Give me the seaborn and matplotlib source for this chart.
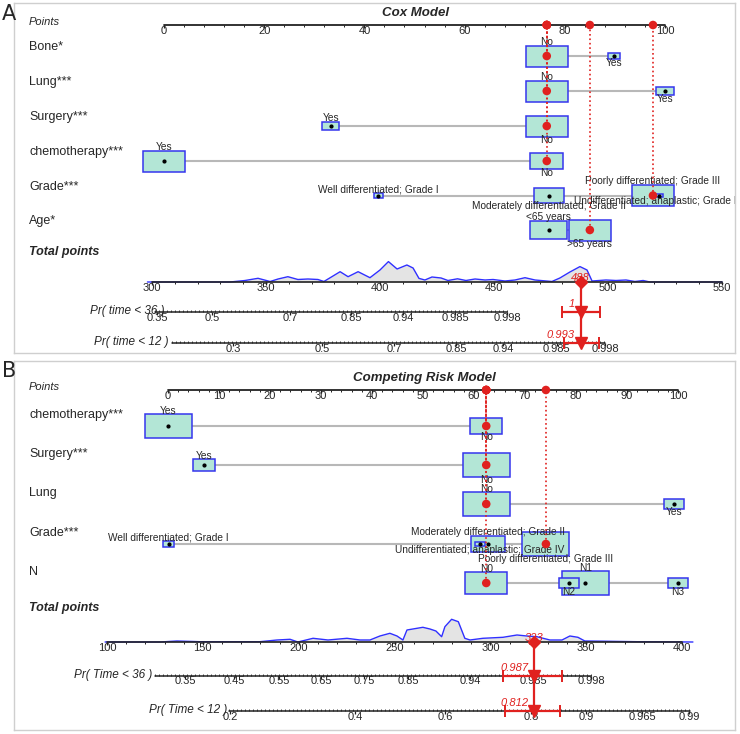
import numpy as np
import matplotlib
matplotlib.use("Agg")
import matplotlib.pyplot as plt
from matplotlib.patches import Rectangle
import seaborn as sns

# ---------------- data: panel A, Cox model ----------------
cox_title = "Cox Model"
cox_vars = ["Bone*", "Lung***", "Surgery***", "chemotherapy***", "Grade***", "Age*"]
grade_levels = ["Well differentiated; Grade I", "Moderately differentiated; Grade II",
                "Poorly differentiated; Grade III", "Undifferentiated; anaplastic; Grade IV"]
cox_levels = [["No", "Yes"], ["No", "Yes"], ["No", "Yes"], ["No", "Yes"],
              grade_levels, ["<65 years", ">65 years"]]
cox_points = [[76.4, 89.8], [76.4, 100], [76.4, 33.3], [76.4, 0],
              [42.8, 76.9, 97.6, 98.8], [76.8, 85.0]]
cox_share = [[0.92, 0.08], [0.85, 0.15], [0.86, 0.14], [0.38, 0.62],
             [0.028, 0.32, 0.63, 0.022], [0.44, 0.56]]
cox_chosen = ["No", "No", "No", "No", "Poorly differentiated; Grade III", ">65 years"]
cox_total = 488
cox_total_ticks = [300, 350, 400, 450, 500, 550]
cox_dens_t = [298, 334.2, 340.8, 346.5, 351.8, 355.3, 359.6, 364.0, 368.4, 372.8, 375.4,
              379.4, 382.5, 386.0, 390.4, 395.6, 400.0, 403.7, 407.5, 411.8, 414.5, 417.1,
              419.7, 422.8, 426.8, 429.8, 434.0, 437.7, 441.7, 446.1, 449.6, 454.8, 459.2,
              463.6, 468.0, 475.4, 478.9, 483.3, 487.7, 490.8, 493.0, 499.1, 503.5, 507.9,
              511.8, 515.4, 518.4, 550]
cox_dens_h = [0, 0, 1.5, 3.7, 0.5, 3, 5.3, 2.5, 3, 2.5, 0.5,
              6, 10.3, 5.3, 10.3, 4.3, 12, 20.4, 13, 17, 14, 3.6,
              2, 5, 4, 1.5, 3.2, 1.5, 3, 2, 2.5, 1, 2,
              4.3, 2, 0.5, 4, 10, 15.4, 12, 1, 2, 1.5, 2,
              0.5, 1.5, 0, 0]
cox_pr_names = ["Pr( time < 36 )", "Pr( time < 12 )"]
cox_pr_ticks = [[0.35, 0.5, 0.7, 0.85, 0.94, 0.985, 0.998],
                [0.3, 0.5, 0.7, 0.85, 0.94, 0.985, 0.998]]
cox_pr_at = [[302.2, 326.3, 360.5, 387.3, 410.1, 432.9, 455.7],
             [335.5, 374.6, 406.1, 433.3, 453.9, 477.6, 498.7]]
cox_pr_span = [(301.3, 455.7), (308.8, 498.7)]
cox_pred = [1, 0.993]
cox_ci = [(479.8, 496.5), (480.7, 496.1)]

# ---------------- data: panel B, competing risk model ----------------
crr_title = "Competing Risk Model"
crr_vars = ["chemotherapy***", "Surgery***", "Lung", "Grade***", "N"]
crr_levels = [["Yes", "No"], ["Yes", "No"], ["No", "Yes"], grade_levels,
              ["N0", "N1", "N2", "N3"]]
crr_points = [[0, 62.4], [7.1, 62.4], [62.4, 99.2], [0.1, 62.8, 74.1, 61.2],
              [62.4, 81.8, 78.6, 100]]
crr_share = [[0.69, 0.31], [0.18, 0.82], [0.85, 0.15], [0.035, 0.32, 0.62, 0.025],
             [0.37, 0.46, 0.085, 0.085]]
crr_chosen = ["No", "No", "No", "Poorly differentiated; Grade III", "N0"]
crr_total = 323
crr_total_ticks = [100, 150, 200, 250, 300, 350, 400]
crr_dens_t = [99, 127.6, 136.5, 148.5, 179.8, 188.7, 195.5, 199.6, 207.5, 215.3, 225.2,
              232.0, 237.2, 242.4, 247.6, 251.3, 254.4, 256.5, 264.8, 268.5, 271.6,
              274.6, 276.3, 279.8, 283.3, 286.7, 289.4, 296.1, 306.6, 313.9, 319.1,
              324.3, 331.1, 337.4, 341.5, 345.7, 349.3, 358.7, 376.5, 405.7]
crr_dens_h = [0, 0, 1, 0.3, 0.3, 2, 2.7, 0, 3.7, 2, 3.7,
              2, 2, 6, 8.7, 6, 2, 12, 14.7, 13, 11,
              5.3, 15.3, 22.7, 20.3, 3.7, 2, 3.7, 4.7, 7, 6,
              5.3, 2, 2, 6, 4.7, 1, 0.8, 0.3, 0]
crr_pr_names = ["Pr( Time < 36 )", "Pr( Time < 12 )"]
crr_pr_ticks = [[0.35, 0.45, 0.55, 0.65, 0.75, 0.85, 0.94, 0.985, 0.998],
                [0.2, 0.4, 0.6, 0.8, 0.9, 0.965, 0.99]]
crr_pr_at = [[140.7, 166.2, 189.7, 211.6, 234.1, 257.0, 289.6, 322.5, 352.7],
             [164.2, 229.4, 276.3, 321.2, 349.9, 379.1, 403.6]]
crr_pr_span = [(125.0, 352.7), (163.6, 404.1)]
crr_pred = [0.987, 0.812]
crr_ci = [(306.6, 337.4), (307.6, 336.3)]

cox = dict(title=cox_title, vars=cox_vars, levels=cox_levels, points=cox_points,
           share=cox_share, chosen=cox_chosen, total=cox_total, total_ticks=cox_total_ticks,
           dens_t=cox_dens_t, dens_h=cox_dens_h, pr_names=cox_pr_names,
           pr_ticks=cox_pr_ticks, pr_at=cox_pr_at, pr_span=cox_pr_span,
           pred=cox_pred, ci=cox_ci)
crr = dict(title=crr_title, vars=crr_vars, levels=crr_levels, points=crr_points,
           share=crr_share, chosen=crr_chosen, total=crr_total, total_ticks=crr_total_ticks,
           dens_t=crr_dens_t, dens_h=crr_dens_h, pr_names=crr_pr_names,
           pr_ticks=crr_pr_ticks, pr_at=crr_pr_at, pr_span=crr_pr_span,
           pred=crr_pred, ci=crr_ci)

# ---------------- layout (figure pixels) ----------------
lay_a = dict(letter="A", letter_y=14, frame=(14, 3, 735, 353), p0=164, p100=665,
             major=20, minor=4, tp=(300, 550), tp_px=(152, 722), y_points=25,
             rows=[56, 91, 126, 161, 195.5, 230], y_total=282, y_pr=[312, 343],
             title_xy=(415, 13), box_w=42, box_h=21, label_dy=-9, total_label_y=252,
             pr_label_dx=[10, -4],
             sides=[[1, -1], [1, -1], [-1, 1], [-1, 1], [1, -1, 1, -1], [1, -1]])
lay_b = dict(letter="B", letter_y=371, frame=(14, 361, 735, 730), p0=168, p100=678,
             major=10, minor=2, tp=(100, 400), tp_px=(107, 682), y_points=390,
             rows=[426, 465, 504, 544, 583], y_total=642, y_pr=[676, 711],
             title_xy=(424, 378), box_w=47, box_h=23.5, label_dy=-11, total_label_y=608,
             pr_label_dx=[-3, -2],
             sides=[[1, -1], [1, -1], [1, -1], [1, 1, -1, -1], [1, 1, -1, -1]])

sns.set_theme(style="white")
plt.rcParams["font.family"] = ["Liberation Sans", "DejaVu Sans"]

W, H = 740, 734
fig = plt.figure(figsize=(W / 100, H / 100), dpi=100)

RED = "#e0211f"
BOX_FACE = "#b3e6d6"
BOX_EDGE = "#3535ee"
GRAY = "#b8b8b8"
INK = "#222222"


def draw_panel(m, lay):
    L, T, R, B = lay["frame"]
    ax = fig.add_axes([L / W, 1 - B / H, (R - L) / W, (B - T) / H])
    ppp = (lay["p100"] - lay["p0"]) / 100.0

    def X(px):
        return (px - lay["p0"]) / ppp

    t0, t1 = lay["tp"]
    q0, q1 = lay["tp_px"]

    def TP(t):
        return X(q0 + (np.asarray(t, dtype=float) - t0) * (q1 - q0) / (t1 - t0))

    ax.set_xlim(X(L), X(R))
    ax.set_ylim(B, T)
    ax.set_xticks([])
    ax.set_yticks([])
    for s in ax.spines.values():
        s.set_color("#cfcfcf")
        s.set_linewidth(1)

    fig.text(2 / W, 1 - lay["letter_y"] / H, lay["letter"], ha="left", va="center",
             fontsize=15, family=["Liberation Sans Narrow", "DejaVu Sans"])
    ax.text(X(lay["title_xy"][0]), lay["title_xy"][1], m["title"], ha="center", va="center",
            fontsize=9.5, fontweight="bold", style="italic")

    # points axis
    yp = lay["y_points"]
    ax.text(X(29), yp - 3, "Points", ha="left", va="center", fontsize=8, style="italic")
    ax.plot([0, 100], [yp, yp], color=INK, lw=1.3, zorder=3)
    minors = np.arange(0, 100.001, lay["minor"])
    ax.vlines(minors, yp, yp + 2, color=INK, lw=0.7, zorder=3)
    majors = np.arange(0, 101, lay["major"])
    ax.vlines(majors, yp, yp + 3, color=INK, lw=0.9, zorder=3)
    for v in majors:
        ax.text(v, yp + 6, str(v), ha="center", va="center", fontsize=8)

    # variable rows
    chosen_pts = []
    for i, name in enumerate(m["vars"]):
        y = lay["rows"][i]
        levels, pts, share = m["levels"][i], m["points"][i], m["share"][i]
        sides = lay["sides"][i]
        ax.text(X(29), y + lay["label_dy"], name, ha="left", va="center", fontsize=9)
        ax.plot([min(pts), max(pts)], [y, y], color=GRAY, lw=1.5, zorder=1)
        smax = max(share)
        order = np.argsort(share)[::-1]
        for rank, j in enumerate(order):
            k = np.sqrt(share[j] / smax)
            w = lay["box_w"] * k / ppp
            h = lay["box_h"] * k
            ax.add_patch(Rectangle((pts[j] - w / 2, y - h / 2), w, h, facecolor=BOX_FACE,
                                   edgecolor=BOX_EDGE, lw=1.1, zorder=2 + 0.1 * rank))
            ty = y - h / 2 - 3.5 if sides[j] > 0 else y + h / 2 + 3.5
            ax.text(pts[j], ty, levels[j], ha="center", va="center", fontsize=7.3,
                    zorder=6, clip_on=True)
            if levels[j] == m["chosen"][i]:
                chosen_pts.append(pts[j])
                # drawn from the row up to the axis, as the nomogram does
                ax.plot([pts[j], pts[j]], [y, yp], color=RED, lw=1.2, ls=":", zorder=7)
                sns.scatterplot(x=[pts[j]], y=[y], ax=ax, color=RED, s=38,
                                edgecolor="none", zorder=8)
            else:
                ax.plot(pts[j], y, marker="o", ms=2, color="black", zorder=5)
    sns.scatterplot(x=chosen_pts, y=[yp] * len(chosen_pts), ax=ax, color=RED, s=38,
                    edgecolor="none", zorder=8)

    # total points axis with density
    yt = lay["y_total"]
    ax.text(X(29), lay["total_label_y"], "Total points", ha="left", va="center",
            fontsize=9, fontweight="bold", style="italic")
    dx = TP(m["dens_t"])
    dy = yt - np.asarray(m["dens_h"])
    ax.fill_between(dx, yt, dy, color="#e4e4e4", lw=0, zorder=1)
    sns.lineplot(x=dx, y=dy, ax=ax, color="#3030ff", lw=1, sort=False, zorder=2)
    ax.plot([TP(t0), TP(t1)], [yt, yt], color=INK, lw=1.2, zorder=3)
    ax.vlines(TP(np.arange(t0, t1 + 0.1, 10)), yt, yt + 2, color=INK, lw=0.7, zorder=3)
    ax.vlines(TP(m["total_ticks"]), yt, yt + 3, color=INK, lw=0.9, zorder=3)
    for v in m["total_ticks"]:
        ax.text(TP(v), yt + 6, str(v), ha="center", va="center", fontsize=8)

    # probability axes
    xt = TP(m["total"])
    for j, pname in enumerate(m["pr_names"]):
        y = lay["y_pr"][j]
        a, b = m["pr_span"][j]
        ax.plot([TP(a), TP(b)], [y, y], color=INK, lw=1.1, zorder=3)
        ax.vlines(np.arange(TP(a), TP(b), 4 / ppp), y - 1.8, y, color=INK, lw=0.6, zorder=3)
        ax.vlines(TP(m["pr_at"][j]), y, y + 3, color=INK, lw=0.9, zorder=3)
        for v, t in zip(m["pr_ticks"][j], m["pr_at"][j]):
            ax.text(TP(t), y + 5.5, f"{v:g}", ha="center", va="center", fontsize=8)
        lx = TP(a) + lay["pr_label_dx"][j] / ppp
        ax.text(lx, y - 1, pname, ha="right", va="center", fontsize=8.5, style="italic")

        lo, hi = m["ci"][j]
        ax.errorbar([xt], [y], xerr=[[xt - TP(lo)], [TP(hi) - xt]], fmt="none",
                    ecolor=RED, elinewidth=1.6, capsize=4, capthick=1.4, zorder=8)
        ax.plot(xt, y, marker="v", ms=8, color=RED, mec=RED, zorder=9)
        ax.text(xt - 6 / ppp, y - 8, f"{m['pred'][j]:g}", ha="right", va="center",
                fontsize=8, style="italic", color=RED, zorder=9)

    ax.plot([xt, xt], [yt, lay["y_pr"][-1]], color=RED, lw=1.6, zorder=8)
    ax.plot(xt, yt, marker="D", ms=6.5, color=RED, mec=RED, zorder=9)
    ax.text(xt, yt - 4, str(m["total"]), ha="center", va="center", fontsize=8,
            style="italic", color=RED, zorder=10)
    ax.set_xlabel("")
    ax.set_ylabel("")
    ax.set_xlim(X(L), X(R))
    ax.set_ylim(B, T)


draw_panel(cox, lay_a)
draw_panel(crr, lay_b)

fig.savefig("out.png", dpi=100)
